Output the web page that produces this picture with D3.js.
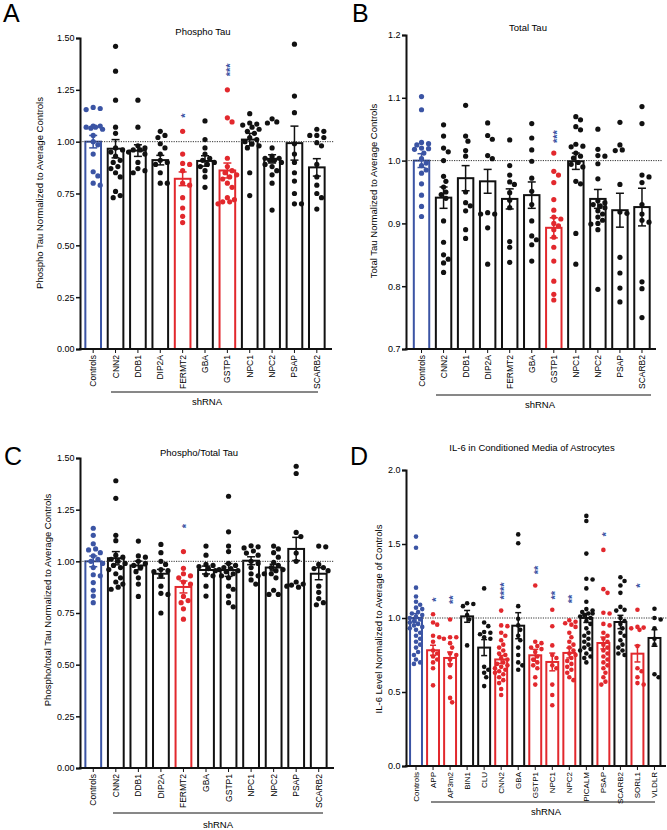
<!DOCTYPE html>
<html><head><meta charset="utf-8">
<script src="https://cdn.jsdelivr.net/npm/d3@7"></script>
<style>
body{margin:0;background:#fff}
text{font-family:"Liberation Sans",Arial,Helvetica,sans-serif;fill:#000}
</style>
</head><body>
<svg id="chart" width="667" height="830"></svg>
<script>
// ---------------- DATA ----------------
const tauCategories = ["Controls","CNN2","DDB1","DIP2A","FERMT2","GBA","GSTP1","NPC1","NPC2","PSAP","SCARB2"];
const il6Categories = ["Controls","APP","AP3m2","BIN1","CLU","CNN2","GBA","GSTP1","NPC1","NPC2","PICALM","PSAP","SCARB2","SORL1","VLDLR"];

const phosphoTicks = [0, 0.25, 0.5, 0.75, 1.0, 1.25, 1.5];
const totalTicks = [0.7, 0.8, 0.9, 1.0, 1.1, 1.2];
const ratioTicks = [0, 0.25, 0.5, 0.75, 1.0, 1.25, 1.5];
const il6Ticks = [0, 0.5, 1.0, 1.5, 2.0];

// Panel A: Phospho Tau
const phosphoMeans = [1.00, 0.966, 0.957, 0.911, 0.821, 0.907, 0.861, 1.01, 0.917, 0.993, 0.876];
const phosphoSems  = [0.03, 0.044, 0.028, 0.023, 0.033, 0.025, 0.036, 0.03, 0.02, 0.082, 0.042];
const phosphoPoints = [
 [1.165,1.155,1.16,1.075,1.07,1.065,1.07,1.06,1.075,1.03,1.0,0.985,0.94,0.855,0.835,0.80,0.79],
 [1.46,1.34,1.20,1.07,1.04,0.97,0.96,0.95,0.93,0.91,0.90,0.88,0.87,0.85,0.83,0.76,0.74,0.73],
 [1.20,1.07,0.98,0.97,0.96,0.96,0.95,0.94,0.90,0.87,0.86,0.85],
 [1.05,1.03,1.02,0.99,0.97,0.94,0.91,0.90,0.89,0.85,0.80,0.80],
 [1.05,0.94,0.895,0.89,0.86,0.80,0.79,0.73,0.68,0.64,0.61],
 [1.10,1.01,0.97,0.94,0.92,0.91,0.90,0.89,0.88,0.86,0.83,0.78],
 [1.25,1.115,1.095,0.92,0.88,0.86,0.85,0.84,0.83,0.82,0.80,0.78,0.73,0.72,0.71,0.71,0.70],
 [1.135,1.09,1.085,1.08,1.07,1.06,1.05,1.04,1.02,1.01,1.0,0.99,0.98,0.97,0.85,0.74],
 [1.11,1.095,1.09,0.97,0.93,0.92,0.92,0.91,0.91,0.90,0.89,0.88,0.86,0.84,0.80,0.67],
 [1.47,1.22,1.14,0.99,0.94,0.90,0.85,0.81,0.75,0.70,0.70],
 [1.06,1.05,1.03,1.02,1.03,0.995,0.98,0.89,0.83,0.79,0.75,0.73,0.675]
];
const phosphoHits = ["FERMT2","GSTP1"];
const phosphoStars = [["FERMT2","*",1.115],["GSTP1","***",1.315]];

// Panel B: Total Tau
const totalMeans = [1.00, 0.941, 0.972, 0.967, 0.939, 0.945, 0.893, 0.999, 0.939, 0.921, 0.926];
const totalSems  = [0.011, 0.017, 0.02, 0.019, 0.016, 0.021, 0.016, 0.013, 0.015, 0.027, 0.03];
const totalPoints = [
 [1.102,1.081,1.029,1.027,1.025,1.02,1.019,1.018,1.012,1.003,0.996,0.992,0.985,0.98,0.963,0.945,0.927,0.911],
 [1.057,1.039,1.02,1.014,1.0,0.975,0.967,0.958,0.95,0.946,0.94,0.904,0.87,0.85,0.843,0.837,0.822],
 [1.088,1.039,1.031,1.016,1.007,0.95,0.933,0.928,0.92,0.89,0.876],
 [1.06,1.04,1.034,1.008,1.003,0.917,0.915,0.915,0.893,0.835],
 [1.033,0.992,0.977,0.966,0.962,0.949,0.937,0.925,0.871,0.862,0.838],
 [1.059,1.036,1.017,0.999,0.972,0.951,0.93,0.904,0.88,0.874,0.866,0.84],
 [1.012,0.983,0.977,0.965,0.938,0.921,0.91,0.907,0.9,0.896,0.89,0.878,0.862,0.84,0.808,0.787,0.778],
 [1.07,1.065,1.054,1.049,1.026,1.023,1.022,1.012,1.007,1.004,0.997,0.994,0.99,0.967,0.963,0.884,0.835],
 [1.05,1.018,1.008,1.007,0.995,0.971,0.936,0.933,0.93,0.928,0.925,0.92,0.915,0.91,0.905,0.9,0.899,0.89,0.795],
 [1.061,1.025,1.017,1.016,0.962,0.918,0.916,0.846,0.821,0.797,0.775],
 [1.086,1.059,0.977,0.974,0.965,0.93,0.915,0.905,0.902,0.807,0.796,0.75]
];
const totalHits = ["GSTP1"];
const totalStars = [["GSTP1","***",1.028]];

// Panel C: Phospho/Total Tau
const ratioMeans = [1.00, 1.015, 0.98, 0.94, 0.876, 0.958, 0.958, 1.003, 0.97, 1.06, 0.94];
const ratioSems  = [0.026, 0.032, 0.021, 0.021, 0.029, 0.019, 0.031, 0.019, 0.016, 0.056, 0.029];
const ratioPoints = [
 [1.16,1.126,1.085,1.06,1.055,1.042,1.026,1.01,1.0,0.99,0.97,0.935,0.93,0.897,0.86,0.832,0.80],
 [1.39,1.305,1.126,1.1,1.03,1.02,1.01,1.0,0.99,0.98,0.97,0.96,0.94,0.92,0.9,0.89,0.875,0.865],
 [1.098,1.026,1.02,1.0,0.99,0.98,0.97,0.95,0.92,0.89,0.83],
 [1.082,1.042,1.0,0.985,0.96,0.955,0.95,0.93,0.88,0.845,0.84,0.75],
 [1.047,0.966,0.94,0.93,0.92,0.90,0.89,0.83,0.81,0.80,0.77,0.72],
 [1.074,1.03,0.985,0.98,0.975,0.965,0.955,0.935,0.93,0.88,0.832],
 [1.315,1.143,1.074,1.047,0.99,0.98,0.97,0.965,0.96,0.955,0.95,0.94,0.93,0.92,0.88,0.865,0.832,0.80,0.78],
 [1.075,1.07,1.065,1.05,1.04,1.03,1.0,0.99,0.97,0.94,0.93,0.91,0.89],
 [1.074,1.06,1.042,1.02,0.995,0.98,0.97,0.96,0.955,0.94,0.94,0.92,0.86,0.84,0.84],
 [1.46,1.425,1.14,1.12,1.04,1.0,0.90,0.89,0.885,0.88,0.875],
 [1.074,1.07,0.985,0.97,0.965,0.955,0.88,0.85,0.82,0.80,0.79]
];
const ratioHits = ["FERMT2"];
const ratioStars = [["FERMT2","*",1.16]];

// Panel D: IL-6
const il6Means = [1.00, 0.782, 0.73, 1.011, 0.80, 0.72, 0.948, 0.748, 0.703, 0.764, 1.00, 0.831, 0.973, 0.759, 0.865];
const il6Sems  = [0.03, 0.034, 0.04, 0.04, 0.054, 0.027, 0.088, 0.04, 0.06, 0.034, 0.03, 0.04, 0.045, 0.056, 0.056];
const il6Points = [
 [1.55,1.475,1.205,1.145,1.11,1.09,1.07,1.06,1.04,1.03,1.02,1.01,1.0,0.99,0.98,0.97,0.96,0.95,0.94,0.93,0.92,0.9,0.88,0.86,0.84,0.82,0.8,0.77,0.75,0.72,0.7,0.69],
 [1.025,0.97,0.955,0.88,0.87,0.84,0.78,0.76,0.74,0.72,0.70,0.66,0.545],
 [0.99,0.87,0.87,0.86,0.83,0.80,0.76,0.75,0.72,0.68,0.60,0.46,0.43],
 [1.1,1.095,1.08,1.02,0.99,0.815],
 [1.2,0.97,0.945,0.905,0.9,0.89,0.87,0.86,0.67,0.65,0.63,0.6,0.54],
 [1.05,0.95,0.945,0.9,0.88,0.85,0.82,0.8,0.78,0.76,0.75,0.73,0.72,0.7,0.69,0.68,0.67,0.66,0.65,0.64,0.63,0.62,0.6,0.58,0.56,0.52,0.48],
 [1.565,1.505,1.08,0.995,0.95,0.92,0.88,0.85,0.8,0.75,0.7,0.68,0.65],
 [1.22,0.84,0.83,0.81,0.8,0.79,0.77,0.74,0.72,0.7,0.68,0.66,0.6,0.55],
 [1.056,0.944,0.815,0.75,0.73,0.68,0.66,0.55,0.48,0.41],
 [0.985,0.975,0.965,0.955,0.94,0.9,0.87,0.84,0.82,0.8,0.78,0.76,0.75,0.73,0.71,0.69,0.67,0.65,0.63,0.6,0.58],
 [1.69,1.655,1.435,1.265,1.26,1.2,1.11,1.06,1.05,1.04,1.03,1.03,1.02,1.01,1.0,0.98,0.96,0.93,0.9,0.88,0.86,0.84,0.82,0.8,0.79,0.78,0.76,0.74,0.73,0.7],
 [1.46,1.195,1.17,1.035,1.03,0.96,0.95,0.9,0.88,0.86,0.84,0.82,0.8,0.78,0.76,0.74,0.72,0.7,0.68,0.66,0.63,0.6,0.57,0.55],
 [1.275,1.25,1.22,1.17,1.075,1.055,1.05,1.0,0.98,0.96,0.93,0.9,0.88,0.85,0.82,0.8,0.78,0.76,0.75],
 [1.056,0.94,0.935,0.93,0.92,0.81,0.66,0.64,0.6,0.56,0.55],
 [1.063,1.0,0.99,0.93,0.86,0.82,0.62,0.6]
];
const il6Hits = ["APP","AP3m2","CNN2","GSTP1","NPC1","NPC2","PSAP","SORL1"];
const il6Stars = [["APP","*",1.11],["AP3m2","**",1.095],["CNN2","****",1.125],["GSTP1","**",1.295],
                  ["NPC1","**",1.125],["NPC2","**",1.10],["PSAP","*",1.55],["SORL1","*",1.205]];

// ---------------- DRAWING ----------------
const BLUE = "#3b54a4", RED = "#e2282d", BLACK = "#111";
const svg = d3.select("#chart");

function swarm(vals, y, r, maxOff) {
  const placed = [], out = [];
  const order = vals.map((v, i) => i).sort((a, b) => vals[b] - vals[a]);
  const step = r * 0.9;
  const cands = [0];
  for (let k = 1; k * step <= maxOff; k++) cands.push(k * step, -k * step);
  for (const i of order) {
    const py = y(vals[i]);
    let best = 0, bestD = -1;
    for (const c of cands) {
      let md = Infinity;
      for (const p of placed) { const d = Math.hypot(p.x - c, p.y - py); if (d < md) md = d; }
      if (md >= 2 * r * 1.0) { best = c; break; }
      if (md > bestD) { bestD = md; best = c; }
    }
    placed.push({x: best, y: py});
    out[i] = {dx: best, y: py};
  }
  return out;
}

function drawPanel(p) {
  const g = svg.append("g");
  const y = d3.scaleLinear().domain(p.domain).range(p.yRange);
  const x = d3.scaleBand().domain(p.cats).range(p.xRange).paddingInner(p.pad).paddingOuter(p.pad / 2);
  const base = y(p.domain[0]);
  const colorOf = (c) => c === "Controls" ? BLUE : (p.hits.includes(c) ? RED : BLACK);

  g.append("text").attr("x", p.letter[1]).attr("y", p.letter[2]).attr("font-size", 25).text(p.letter[0]);
  g.append("text").attr("x", p.title[1]).attr("y", p.title[2]).attr("text-anchor", "middle")
    .attr("font-size", 9.5).text(p.title[0]);

  g.append("text").attr("transform", `translate(${p.yLab[1]},${p.yLab[2]}) rotate(-90)`)
    .attr("text-anchor", "middle").attr("font-size", 9.5).text(p.yLab[0]);

  p.cats.forEach((c, i) => {
    const col = colorOf(c);
    g.append("rect").attr("x", x(c)).attr("y", y(p.means[i])).attr("width", x.bandwidth())
      .attr("height", base - y(p.means[i])).attr("fill", "#fff").attr("stroke", col).attr("stroke-width", 2);
  });

  g.append("line").attr("x1", p.axisX).attr("x2", p.refEnd).attr("y1", y(1)).attr("y2", y(1))
    .attr("stroke", "#333").attr("stroke-width", 1).attr("stroke-dasharray", "1.2,1.2");

  p.cats.forEach((c, i) => {
    const col = colorOf(c);
    const cx = x(c) + x.bandwidth() / 2;
    const sw = swarm(p.points[i], y, p.r, x.bandwidth() * 0.6);
    g.append("g").selectAll("circle").data(sw).join("circle")
      .attr("cx", d => cx + d.dx).attr("cy", d => d.y).attr("r", p.r).attr("fill", col);
  });

  p.cats.forEach((c, i) => {
    const col = colorOf(c);
    const cx = x(c) + x.bandwidth() / 2;
    const m = p.means[i], s = p.sems[i];
    const cw = p.cap;
    g.append("line").attr("x1", cx).attr("x2", cx).attr("y1", y(m + s)).attr("y2", y(m - s))
      .attr("stroke", col).attr("stroke-width", 1.5);
    [m + s, m - s].forEach(v => g.append("line").attr("x1", cx - cw / 2).attr("x2", cx + cw / 2)
      .attr("y1", y(v)).attr("y2", y(v)).attr("stroke", col).attr("stroke-width", 1.5));
  });

  p.stars.forEach(([c, s, v]) => {
    const cx = x(c) + x.bandwidth() / 2;
    g.append("text").attr("transform", `translate(${cx},${y(v)}) rotate(-90)`)
      .attr("dy", "0.62em").attr("font-size", 11).attr("font-weight", "bold")
      .style("fill", BLUE).text(s);
  });

  const ya = d3.axisLeft(y).tickValues(p.ticks).tickFormat(d3.format(p.fmt)).tickSize(4).tickPadding(1.5);
  const yg = g.append("g").attr("transform", `translate(${p.axisX},0)`).call(ya);
  yg.select(".domain").attr("stroke", BLACK).attr("stroke-width", 2);
  yg.selectAll(".tick line").attr("stroke", BLACK).attr("stroke-width", 1.5);
  yg.selectAll(".tick text").attr("font-size", 9).attr("font-family", "Liberation Sans, Arial, sans-serif").attr("fill", "#000");

  g.append("line").attr("x1", p.axisX - 1).attr("x2", p.xEnd).attr("y1", base).attr("y2", base)
    .attr("stroke", BLACK).attr("stroke-width", 2);

  p.cats.forEach(c => {
    const cx = x(c) + x.bandwidth() / 2;
    g.append("line").attr("x1", cx).attr("x2", cx).attr("y1", base).attr("y2", base + 4)
      .attr("stroke", BLACK).attr("stroke-width", 1);
    g.append("text").attr("transform", `translate(${cx},${base + 6}) rotate(-90)`)
      .attr("text-anchor", "end").attr("dy", "0.35em").attr("font-size", p.catFont).text(c);
  });

  g.append("line").attr("x1", p.shLine[0]).attr("x2", p.shLine[1]).attr("y1", p.shLine[2]).attr("y2", p.shLine[2])
    .attr("stroke", BLACK).attr("stroke-width", 1);
  g.append("text").attr("x", p.shText[0]).attr("y", p.shText[1]).attr("text-anchor", "middle")
    .attr("font-size", 9.5).text("shRNA");
}

drawPanel({
  cats: tauCategories, means: phosphoMeans, sems: phosphoSems, points: phosphoPoints,
  hits: phosphoHits, stars: phosphoStars, ticks: phosphoTicks, fmt: ".2f",
  domain: [0, 1.5], yRange: [349, 38], xRange: [82, 328], pad: 0.3, axisX: 80, xEnd: 332, refEnd: 334,
  r: 2.6, cap: 8, catFont: 8.5,
  letter: ["A", 3, 22], title: ["Phospho Tau", 203, 35],
  yLab: ["Phospho Tau Normalized to Average Controls", 43, 193],
  shLine: [111, 318, 392], shText: [207, 405]
});

drawPanel({
  cats: tauCategories, means: totalMeans, sems: totalSems, points: totalPoints,
  hits: totalHits, stars: totalStars, ticks: totalTicks, fmt: ".1f",
  domain: [0.7, 1.2], yRange: [349, 35], xRange: [410.5, 653], pad: 0.3, axisX: 406, xEnd: 656, refEnd: 662,
  r: 2.6, cap: 8, catFont: 8.5,
  letter: ["B", 352, 22], title: ["Total Tau", 528, 31],
  yLab: ["Total Tau Normalized to Average Controls", 377, 191],
  shLine: [436, 651, 395], shText: [540, 408]
});

drawPanel({
  cats: tauCategories, means: ratioMeans, sems: ratioSems, points: ratioPoints,
  hits: ratioHits, stars: ratioStars, ticks: ratioTicks, fmt: ".2f",
  domain: [0, 1.5], yRange: [768, 458], xRange: [82, 330], pad: 0.3, axisX: 80, xEnd: 334, refEnd: 334,
  r: 2.6, cap: 8, catFont: 8.5,
  letter: ["C", 4, 465], title: ["Phospho/Total Tau", 199, 456],
  yLab: ["Phospho/total Tau Normalized to Average Controls", 51, 600],
  shLine: [113, 323, 813], shText: [218, 828]
});

drawPanel({
  cats: il6Categories, means: il6Means, sems: il6Sems, points: il6Points,
  hits: il6Hits, stars: il6Stars, ticks: il6Ticks, fmt: ".1f",
  domain: [0, 2.0], yRange: [766, 470], xRange: [407.5, 663], pad: 0.3, axisX: 406, xEnd: 666, refEnd: 667,
  r: 2.3, cap: 6, catFont: 8,
  letter: ["D", 350, 465], title: ["IL-6 in Conditioned Media of Astrocytes", 532, 451],
  yLab: ["IL-6 Level Normalized to Average of Controls", 382, 619],
  shLine: [431, 655, 802], shText: [546, 815]
});
</script>
</body></html>
